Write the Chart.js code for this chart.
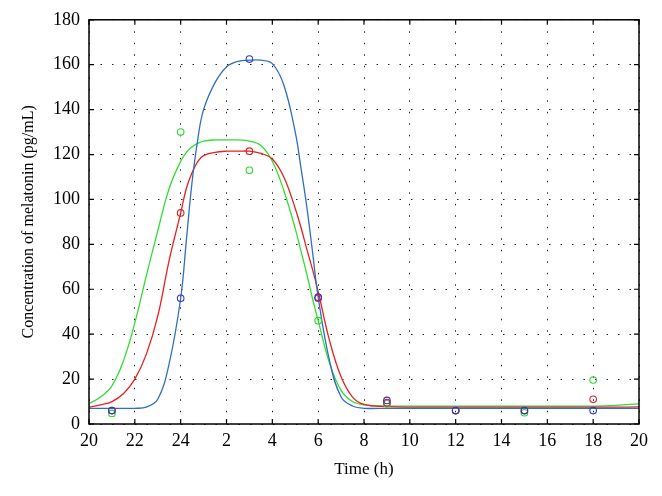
<!DOCTYPE html>
<html>
<head>
<meta charset="utf-8">
<script src="https://cdn.jsdelivr.net/npm/chart.js@4"></script>
<style>
  body { margin: 0; background: #fff; }
  #wrap { width: 662px; height: 496px; }
</style>
</head>
<body>
<div id="wrap"><canvas id="melatoninChart" width="662" height="496"></canvas></div>
<script>
// Time axis runs 20 h -> 20 h next day (values > 24 are next-day hours)
const curveTimes = [20, 20.5, 21, 21.5, 22, 22.5, 23, 23.5, 24, 24.25, 24.5, 24.75, 25, 25.5, 26, 26.5, 27, 27.5, 28, 28.5, 29, 29.25, 29.5, 29.75, 30, 30.5, 31, 31.5, 32, 33, 34, 36, 38, 40, 42, 43, 44];
const greenCurve = [9, 12, 17, 28, 45, 66, 86, 105, 117, 121, 123.5, 125, 126, 126.5, 126.5, 126.5, 126, 124, 117, 104, 87, 77, 67, 56, 46, 27, 15, 10, 8.5, 8, 8, 8, 8, 8, 8, 8.3, 9];
const redCurve = [7.5, 8.5, 10, 13.5, 20, 31, 48, 73, 94, 105, 112, 117, 119.5, 121, 121.5, 121.5, 121.5, 120.5, 118, 110, 96, 87.5, 78, 69, 59, 37, 21, 12, 8.7, 7.7, 7.5, 7.5, 7.5, 7.5, 7.5, 7.5, 7.6];
const blueCurve = [7, 7, 7, 7, 7, 7.5, 11, 27, 56, 82, 108, 127, 140, 152, 159, 161.5, 162, 162, 160.5, 151, 130, 114, 97, 77, 56.5, 28, 12, 8, 7, 7, 7, 7, 7, 7, 7, 7, 7];

// Measured samples
const sampleTimes = [21, 24, 27, 30, 33, 36, 39, 42];
const greenSamples = [4.7, 130, 113, 46, 9, 6, 5, 19.6];
const redSamples = [6, 94, 121.5, 56, 9.5, 6, 6, 11];
const blueSamples = [6, 56, 162.5, 56.5, 10.5, 6, 6, 6];

const xTicks = [20, 22, 24, 26, 28, 30, 32, 34, 36, 38, 40, 42, 44];
const yTicks = [0, 20, 40, 60, 80, 100, 120, 140, 160, 180];

const toXY = (xs, ys) => xs.map((t, i) => ({ x: t, y: ys[i] }));

const fontFamily = '"Liberation Serif", "Times New Roman", serif';

// box frame with inward tick marks on all four sides
const boxTicks = {
    id: 'boxTicks',
    afterDatasetsDraw(chart) {
        const { ctx, chartArea: a, scales: { x, y } } = chart;
        ctx.save();
        ctx.strokeStyle = '#000';
        ctx.lineWidth = 1.2;
        ctx.beginPath();
        xTicks.forEach(v => {
            const px = x.getPixelForValue(v);
            ctx.moveTo(px, a.bottom); ctx.lineTo(px, a.bottom - 5);
            ctx.moveTo(px, a.top); ctx.lineTo(px, a.top + 5);
        });
        yTicks.forEach(v => {
            const py = y.getPixelForValue(v);
            ctx.moveTo(a.left, py); ctx.lineTo(a.left + 5, py);
            ctx.moveTo(a.right, py); ctx.lineTo(a.right - 5, py);
        });
        ctx.stroke();
        ctx.lineWidth = 1.5;
        ctx.strokeRect(a.left, a.top, a.right - a.left, a.bottom - a.top);
        ctx.restore();
    }
};

const curve = (data, color) => ({
    type: 'line', data: data, borderColor: color, borderWidth: 1.3,
    pointRadius: 0, fill: false, tension: 0.4, showLine: true
});
const marks = (data, color) => ({
    type: 'scatter', data: data, borderColor: color, backgroundColor: 'rgba(0,0,0,0)',
    pointRadius: 3.3, borderWidth: 1.1, pointStyle: 'circle', showLine: false
});

new Chart(document.getElementById('melatoninChart').getContext('2d'), {
    type: 'scatter',
    data: {
        datasets: [
            marks(toXY(sampleTimes, blueSamples), '#3434cc'),
            marks(toXY(sampleTimes, redSamples), '#e02424'),
            marks(toXY(sampleTimes, greenSamples), '#2ed62e'),
            curve(toXY(curveTimes, blueCurve), '#2f6fbf'),
            curve(toXY(curveTimes, redCurve), '#e82020'),
            curve(toXY(curveTimes, greenCurve), '#33dd33')
        ]
    },
    options: {
        responsive: false,
        animation: false,
        devicePixelRatio: 1,
        layout: { padding: { left: 12, right: 23, top: 19, bottom: 10 } },
        plugins: { legend: { display: false }, tooltip: { enabled: false } },
        scales: {
            x: {
                type: 'linear', min: 20, max: 44,
                afterBuildTicks: s => { s.ticks = xTicks.map(v => ({ value: v })); },
                afterFit: s => { s.height = 62; },
                ticks: {
                    color: '#000', padding: 6, maxRotation: 0,
                    font: { family: fontFamily, size: 18 },
                    callback: v => (v > 24 ? v - 24 : v)
                },
                grid: { color: '#222', lineWidth: 1, drawTicks: false },
                border: { display: false, dash: [1.5, 10] },
                title: {
                    display: true, text: 'Time (h)', color: '#000',
                    font: { family: fontFamily, size: 17 }, padding: { top: 0, bottom: 6 }
                }
            },
            y: {
                min: 0, max: 180,
                afterBuildTicks: s => { s.ticks = yTicks.map(v => ({ value: v })); },
                afterFit: s => { s.width = 77; },
                ticks: { color: '#000', padding: 9, font: { family: fontFamily, size: 18 } },
                grid: { color: '#222', lineWidth: 1, drawTicks: false },
                border: { display: false, dash: [1.5, 10] },
                title: {
                    display: true, text: 'Concentration of melatonin (pg/mL)', color: '#000',
                    font: { family: fontFamily, size: 16 }, padding: { top: 7, bottom: 0 }
                }
            }
        }
    },
    plugins: [boxTicks]
});
</script>
</body>
</html>
